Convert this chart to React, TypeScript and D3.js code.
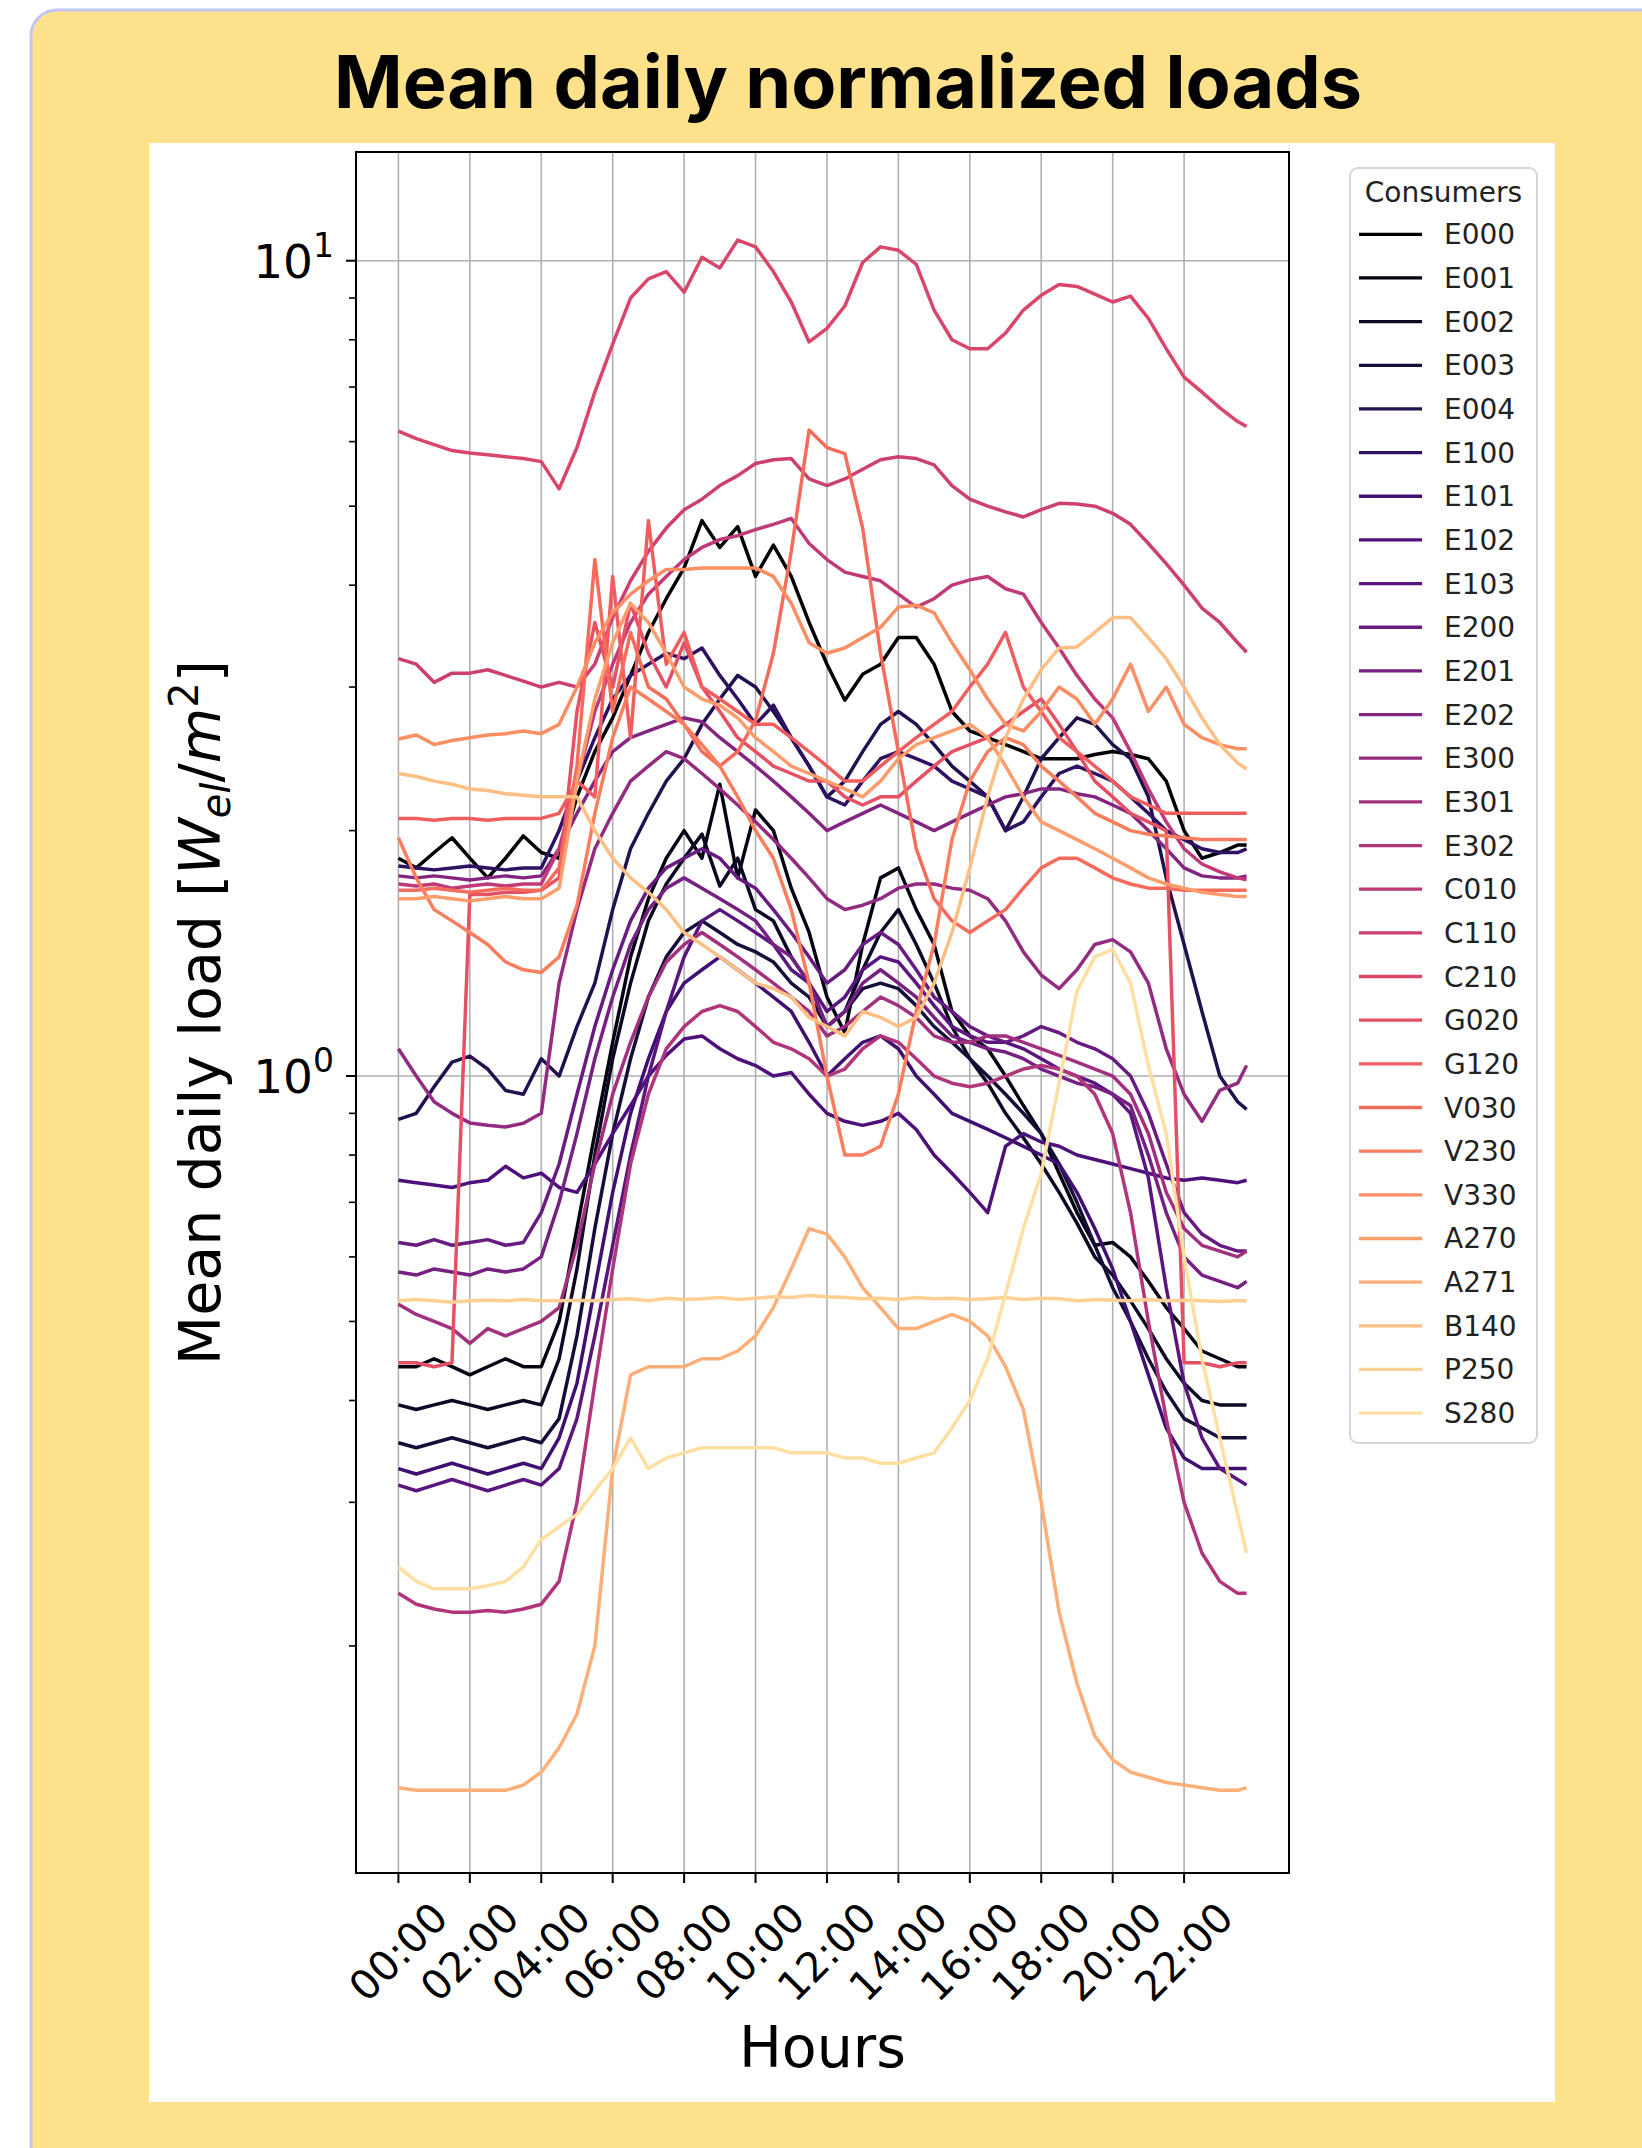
import React from 'react';
import * as d3 from 'd3';

const HOURS = [0,0.5,1,1.5,2,2.5,3,3.5,4,4.5,5,5.5,6,6.5,7,7.5,8,8.5,9,9.5,10,10.5,11,11.5,12,12.5,13,13.5,14,14.5,15,15.5,16,16.5,17,17.5,18,18.5,19,19.5,20,20.5,21,21.5,22,22.5,23,23.5,23.75];

const TICK_HOURS = [0,2,4,6,8,10,12,14,16,18,20,22];
const TICK_LABELS = ['00:00','02:00','04:00','06:00','08:00','10:00','12:00','14:00','16:00','18:00','20:00','22:00'];
const Y_MAJOR = [1, 10];
const Y_MAJOR_EXP = ['0', '1'];
const Y_MINOR = [0.2,0.3,0.4,0.5,0.6,0.7,0.8,0.9,2,3,4,5,6,7,8,9];

const CONSUMERS = ['E000','E001','E002','E003','E004','E100','E101','E102','E103','E200','E201','E202','E300','E301','E302','C010','C110','C210','G020','G120','V030','V230','V330','A270','A271','B140','P250','S280'];

const E000 = [1.85,1.8,1.88,1.96,1.85,1.75,1.85,1.97,1.88, 1.85,2.2,2.5,2.75,3.1,3.5,3.85,4.2, 4.8,4.45,4.72,4.1,4.48,4.1,3.6,3.2, 2.89,3.11,3.2,3.45,3.45,3.2,2.8,2.65, 2.6,2.55,2.5,2.45,2.45,2.45,2.48,2.5, 2.48,2.45,2.3,2.0,1.85,1.88,1.92, 1.92];
const E001 = [0.44,0.44,0.45,0.44,0.43,0.44,0.45,0.44,0.44, 0.5,0.65,0.85,1.1,1.4,1.65,1.85,2.0, 1.85,2.28,1.75,2.12,2.0,1.7,1.5,1.25, 1.13,1.45,1.75,1.8,1.6,1.45,1.2,1.12, 1.08,1.0,0.92,0.85,0.76,0.68,0.62,0.625, 0.6,0.56,0.52,0.49,0.46,0.45,0.44, 0.44];
const E002 = [0.395,0.39,0.395,0.4,0.395,0.39,0.395,0.4,0.395, 0.45,0.58,0.8,1.05,1.3,1.55,1.72,1.85, 1.98,1.71,1.85,1.6,1.55,1.4,1.3,1.15, 1.2,1.35,1.5,1.6,1.45,1.3,1.15,1.05, 0.98,0.9,0.84,0.78,0.72,0.66,0.6,0.57, 0.53,0.49,0.45,0.42,0.4,0.395,0.395, 0.395];
const E003 = [0.355,0.35,0.355,0.36,0.355,0.35,0.355,0.36,0.355, 0.38,0.48,0.65,0.85,1.05,1.25,1.4,1.5, 1.55,1.5,1.45,1.42,1.38,1.3,1.25,1.15, 1.2,1.28,1.3,1.28,1.22,1.15,1.1,1.05, 1.0,0.95,0.9,0.85,0.78,0.7,0.62,0.55, 0.5,0.45,0.41,0.38,0.37,0.36,0.36, 0.36];
const E004 = [0.885,0.9,0.97,1.04,1.058,1.02,0.96,0.95,1.05, 1.0,1.15,1.3,1.6,1.9,2.1,2.3,2.45, 2.7,2.9,3.1,3.0,2.8,2.6,2.4,2.2, 2.3,2.5,2.7,2.8,2.7,2.55,2.4,2.3, 2.2,2.0,2.2,2.45,2.6,2.75,2.7,2.55, 2.45,2.2,1.75,1.45,1.2,1.0,0.93, 0.91];
const E100 = [1.81,1.8,1.79,1.8,1.81,1.8,1.79,1.8,1.8, 2.0,2.3,2.6,2.9,3.1,3.2,3.3,3.25, 3.35,3.1,2.9,2.7,2.85,2.6,2.4,2.2, 2.15,2.3,2.45,2.5,2.45,2.4,2.3,2.25, 2.2,2.0,2.05,2.2,2.35,2.4,2.35,2.3, 2.2,2.1,2.0,1.95,1.9,1.88,1.88, 1.9];
const E101 = [0.33,0.325,0.33,0.335,0.33,0.325,0.33,0.335,0.33, 0.36,0.42,0.55,0.72,0.9,1.05,1.2,1.3, 1.35,1.4,1.35,1.3,1.25,1.2,1.1,1.0, 1.05,1.1,1.12,1.08,1.0,0.95,0.9,0.88, 0.86,0.84,0.82,0.8,0.78,0.72,0.65,0.58, 0.5,0.43,0.37,0.34,0.33,0.33,0.33, 0.33];
const E102 = [0.745,0.74,0.735,0.73,0.74,0.745,0.775,0.75,0.76, 0.73,0.72,0.78,0.85,0.92,1.0,1.06,1.11, 1.12,1.08,1.05,1.03,1.0,1.01,0.95,0.9, 0.88,0.87,0.88,0.9,0.86,0.8,0.76,0.72, 0.68,0.82,0.85,0.83,0.82,0.8,0.79,0.78, 0.77,0.76,0.75,0.745,0.75,0.745,0.74, 0.745];
const E103 = [0.315,0.31,0.315,0.32,0.315,0.31,0.315,0.32,0.315, 0.33,0.38,0.48,0.62,0.8,1.0,1.2,1.4, 1.55,1.6,1.55,1.5,1.45,1.35,1.3,1.2, 1.25,1.35,1.4,1.38,1.3,1.22,1.15,1.12, 1.1,1.1,1.08,1.05,1.02,1.0,0.98,0.95, 0.9,0.75,0.55,0.42,0.36,0.33,0.32, 0.315];
const E200 = [0.625,0.62,0.63,0.62,0.625,0.63,0.62,0.625,0.68, 0.78,0.95,1.15,1.35,1.55,1.7,1.8,1.85, 1.9,1.85,1.75,1.7,1.6,1.5,1.4,1.3, 1.35,1.45,1.5,1.45,1.35,1.25,1.2,1.15, 1.12,1.1,1.12,1.15,1.13,1.1,1.08,1.05, 1.0,0.9,0.78,0.68,0.64,0.62,0.61, 0.61];
const E201 = [0.575,0.57,0.58,0.575,0.57,0.58,0.575,0.58,0.6, 0.7,0.85,1.05,1.25,1.45,1.6,1.7,1.75, 1.7,1.65,1.6,1.55,1.45,1.4,1.3,1.15, 1.2,1.3,1.35,1.3,1.25,1.18,1.12,1.1, 1.08,1.07,1.05,1.02,1.0,0.98,0.97,0.95, 0.92,0.8,0.68,0.6,0.57,0.56,0.55, 0.56];
const E202 = [1.76,1.75,1.76,1.75,1.74,1.75,1.76,1.75,1.76, 1.9,2.1,2.3,2.5,2.6,2.65,2.7,2.75, 2.72,2.6,2.5,2.4,2.3,2.2,2.1,2.0, 2.05,2.1,2.15,2.1,2.05,2.0,2.05,2.1, 2.15,2.2,2.22,2.25,2.25,2.22,2.2,2.15, 2.1,2.0,1.9,1.8,1.76,1.75,1.75, 1.76];
const E300 = [1.08,1.0,0.93,0.9,0.876,0.87,0.866,0.875,0.9, 1.3,1.6,1.9,2.1,2.3,2.4,2.5,2.45, 2.35,2.25,2.15,2.05,1.95,1.85,1.75,1.65, 1.6,1.62,1.65,1.7,1.72,1.72,1.7,1.69, 1.65,1.55,1.42,1.33,1.28,1.35,1.45,1.47, 1.42,1.3,1.08,0.95,0.88,0.96,0.98, 1.03];
const E301 = [0.525,0.51,0.5,0.49,0.47,0.49,0.48,0.49,0.5, 0.52,0.62,0.78,0.95,1.1,1.25,1.38,1.45, 1.5,1.45,1.4,1.35,1.3,1.25,1.2,1.12, 1.15,1.2,1.25,1.22,1.18,1.12,1.1,1.1, 1.12,1.12,1.1,1.08,1.06,1.04,1.02,1.0, 0.95,0.85,0.72,0.65,0.62,0.61,0.6, 0.61];
const E302 = [0.232,0.225,0.222,0.22,0.22,0.221,0.22,0.222,0.225, 0.24,0.3,0.42,0.58,0.78,0.95,1.08,1.15, 1.2,1.22,1.2,1.15,1.1,1.08,1.05,1.0, 1.02,1.08,1.12,1.1,1.05,1.0,0.98,0.97, 0.98,1.0,1.02,1.03,1.02,1.0,0.95,0.85, 0.68,0.5,0.38,0.3,0.26,0.24,0.232, 0.232];
const C010 = [1.72,1.71,1.72,1.7,1.71,1.72,1.71,1.72,1.72, 1.9,2.3,2.8,3.2,3.6,3.9,4.1,4.3, 4.45,4.55,4.6,4.68,4.75,4.83,4.5,4.3, 4.15,4.1,4.05,3.9,3.76,3.85,4.0,4.06, 4.1,3.96,3.9,3.6,3.35,3.1,2.9,2.75, 2.5,2.25,2.05,1.9,1.82,1.78,1.75, 1.74];
const C110 = [3.25,3.2,3.04,3.12,3.12,3.15,3.1,3.05,3.0, 3.04,3.0,3.2,3.65,4.05,4.4,4.7,4.95, 5.1,5.3,5.45,5.64,5.7,5.72,5.4,5.3, 5.4,5.55,5.7,5.75,5.72,5.62,5.3,5.1, 5.0,4.92,4.85,4.95,5.04,5.03,5.0,4.9, 4.75,4.5,4.25,4.0,3.75,3.6,3.4, 3.31];
const C210 = [6.18,6.05,5.95,5.85,5.81,5.78,5.75,5.72,5.67, 5.25,5.9,6.9,7.9,9.0,9.5,9.7,9.15, 10.1,9.8,10.6,10.4,9.7,8.9,7.95,8.26, 8.8,9.95,10.4,10.3,9.9,8.7,8.0,7.8, 7.8,8.15,8.7,9.07,9.35,9.3,9.1,8.9, 9.05,8.5,7.8,7.2,6.9,6.6,6.35, 6.26];
const G020 = [0.445,0.445,0.44,0.445,1.67,1.67,1.68,1.68,1.69, 1.75,2.8,3.6,3.0,3.8,3.3,3.0,3.4, 3.0,2.8,2.6,2.5,2.4,2.35,2.3,2.3, 2.2,2.15,2.2,2.2,2.3,2.4,2.5,2.55, 2.6,2.7,2.8,2.9,2.7,2.5,2.3,2.2, 2.1,2.05,2.0,0.445,0.445,0.44,0.445, 0.445];
const G120 = [2.07,2.07,2.06,2.07,2.07,2.06,2.07,2.07,2.07, 2.1,2.3,2.2,4.1,2.6,4.8,3.2,3.5, 3.0,2.9,2.8,2.7,2.7,2.6,2.5,2.4, 2.3,2.3,2.4,2.5,2.6,2.7,2.8,3.0, 3.2,3.5,3.0,2.8,2.6,2.5,2.4,2.3, 2.2,2.15,2.1,2.1,2.1,2.1,2.1, 2.1];
const V030 = [1.69,1.69,1.7,1.69,1.68,1.69,1.7,1.69,1.69, 1.8,2.4,4.3,2.8,3.5,3.0,2.9,2.7, 2.5,2.4,2.5,2.73,3.3,4.4,6.2,5.9, 5.8,4.7,3.3,2.5,1.9,1.65,1.55,1.5, 1.55,1.6,1.7,1.8,1.85,1.85,1.8,1.75, 1.72,1.7,1.7,1.69,1.69,1.69,1.69, 1.69];
const V230 = [1.96,1.75,1.6,1.55,1.5,1.45,1.38,1.35,1.34, 1.4,1.62,2.1,2.6,3.0,2.9,2.8,2.7, 2.55,2.4,2.2,2.0,1.85,1.6,1.3,1.0, 0.8,0.8,0.82,0.95,1.2,1.45,1.95,2.3, 2.5,2.6,2.55,2.4,2.3,2.2,2.1,2.05, 2.0,1.98,1.97,1.96,1.95,1.95,1.95, 1.95];
const V330 = [2.59,2.62,2.55,2.58,2.6,2.62,2.63,2.65,2.63, 2.7,3.0,3.4,3.7,3.9,4.05,4.18,4.18, 4.2,4.2,4.2,4.2,4.1,3.8,3.4,3.3, 3.35,3.45,3.55,3.76,3.78,3.7,3.4,3.15, 2.9,2.7,2.65,2.8,3.0,2.9,2.7,2.9, 3.2,2.8,3.0,2.7,2.6,2.55,2.52, 2.52];
const A270 = [1.65,1.65,1.66,1.65,1.64,1.65,1.66,1.65,1.65, 1.7,2.3,2.9,3.4,3.8,3.6,3.3,3.0, 2.9,2.85,2.75,2.6,2.5,2.4,2.35,2.3, 2.25,2.2,2.3,2.45,2.55,2.6,2.65,2.7, 2.6,2.4,2.2,2.05,2.0,1.95,1.9,1.85, 1.8,1.75,1.72,1.7,1.68,1.67,1.66, 1.66];
const A271 = [0.134,0.133,0.133,0.133,0.133,0.133,0.133,0.135,0.14, 0.15,0.165,0.2,0.33,0.43,0.44,0.44,0.44, 0.45,0.45,0.46,0.48,0.52,0.58,0.65,0.64, 0.6,0.55,0.52,0.49,0.49,0.5,0.51,0.5, 0.48,0.44,0.39,0.3,0.22,0.18,0.155,0.145, 0.14,0.138,0.136,0.135,0.134,0.133,0.133, 0.134];
const B140 = [2.35,2.33,2.3,2.28,2.25,2.24,2.22,2.21,2.2, 2.2,2.2,2.0,1.85,1.75,1.68,1.6,1.5, 1.45,1.4,1.35,1.3,1.28,1.25,1.18,1.15, 1.12,1.2,1.18,1.15,1.18,1.3,1.5,1.8, 2.2,2.6,2.9,3.15,3.35,3.36,3.5,3.65, 3.65,3.45,3.25,3.0,2.75,2.55,2.42, 2.38];
const P250 = [0.53,0.532,0.53,0.528,0.53,0.531,0.53,0.532,0.53, 0.53,0.531,0.53,0.532,0.533,0.53,0.534,0.532, 0.533,0.535,0.532,0.534,0.536,0.535,0.538,0.536, 0.535,0.533,0.534,0.532,0.535,0.533,0.534,0.532, 0.533,0.535,0.532,0.534,0.533,0.53,0.532,0.531, 0.53,0.532,0.53,0.531,0.53,0.529,0.53, 0.53];
const S280 = [0.25,0.24,0.235,0.235,0.235,0.237,0.24,0.25,0.27, 0.28,0.29,0.31,0.33,0.36,0.33,0.34,0.345, 0.35,0.35,0.35,0.35,0.35,0.345,0.345,0.345, 0.34,0.34,0.335,0.335,0.34,0.345,0.37,0.4, 0.45,0.54,0.65,0.76,0.98,1.27,1.4,1.43, 1.3,1.03,0.85,0.6,0.45,0.36,0.29, 0.26];

const SERIES = [E000,E001,E002,E003,E004,E100,E101,E102,E103,E200,E201,E202,E300,E301,E302,C010,C110,C210,G020,G120,V030,V230,V330,A270,A271,B140,P250,S280];

const W = 1642;
const H = 2148;
const PL = 356, PR = 1289, PT = 152, PB = 1873;
const FONT = "'DejaVu Sans', sans-serif";

export default function App() {
  const x = d3.scaleLinear().domain([-1.1875, 24.9375]).range([PL, PR]);
  const y = d3.scaleLog().domain([0.10531, 13.595]).range([PB, PT]);
  const line = d3.line<[number, number]>().x(d => x(d[0])).y(d => y(d[1]));
  const color = (i: number) => d3.interpolateMagma((i / CONSUMERS.length) * 0.97);

  const legX = 1350, legY = 168, legW = 187, legH = 1275;
  const legFirst = 234.3, legStep = 43.66;

  return (
    <svg width={W} height={H} style={{ position: 'absolute', left: 0, top: 0, display: 'block' }}>
      <defs>
        <clipPath id="plotclip">
          <rect x={PL} y={PT} width={PR - PL} height={PB - PT} />
        </clipPath>
      </defs>
      <rect x={0} y={0} width={W} height={H} fill="#ffffff" />
      <rect x={31} y={10} width={1700} height={2300} rx={26} fill="#fde28b" stroke="#c3c5f3" strokeWidth={3} />
      <text x={848} y={108} textAnchor="middle" fontFamily="Inter, 'Open Sans', sans-serif" fontWeight={700} fontSize={73} textLength={1028} lengthAdjust="spacingAndGlyphs" fill="#000">Mean daily normalized loads</text>
      <rect x={149} y={143} width={1406} height={1959} fill="#ffffff" />

      {/* grid */}
      <g stroke="#b0b0b0" strokeWidth={1.6}>
        {TICK_HOURS.map(h => (
          <line key={'gx' + h} x1={x(h)} x2={x(h)} y1={PT} y2={PB} />
        ))}
        {Y_MAJOR.map(v => (
          <line key={'gy' + v} x1={PL} x2={PR} y1={y(v)} y2={y(v)} />
        ))}
      </g>

      {/* series */}
      <g clipPath="url(#plotclip)" fill="none" strokeWidth={3.5} strokeLinejoin="round">
        {SERIES.map((vals, i) => (
          <path key={CONSUMERS[i]} d={line(HOURS.map((h, k) => [h, vals[k]] as [number, number])) || ''} stroke={color(i)} />
        ))}
      </g>

      {/* spines */}
      <rect x={PL} y={PT} width={PR - PL} height={PB - PT} fill="none" stroke="#000" strokeWidth={2} />

      {/* ticks */}
      <g stroke="#000" strokeWidth={2}>
        {TICK_HOURS.map(h => (
          <line key={'tx' + h} x1={x(h)} x2={x(h)} y1={PB} y2={PB + 10} />
        ))}
        {Y_MAJOR.map(v => (
          <line key={'ty' + v} x1={PL - 10} x2={PL} y1={y(v)} y2={y(v)} />
        ))}
        {Y_MINOR.map(v => (
          <line key={'tm' + v} x1={PL - 7} x2={PL} y1={y(v)} y2={y(v)} strokeWidth={1.6} />
        ))}
      </g>
      {TICK_HOURS.map((h, i) => (
        <text key={'lx' + h} transform={`translate(${x(h)},1952) rotate(-45)`} textAnchor="middle" dominantBaseline="central" fontFamily={FONT} fontSize={41} fill="#000">{TICK_LABELS[i]}</text>
      ))}
      {Y_MAJOR.map((v, i) => (
        <text key={'ly' + v} x={334} y={y(v) + 17} textAnchor="end" fontFamily={FONT} fontSize={47} fill="#000">
          10
          <tspan fontSize={33} dy={-21}>{Y_MAJOR_EXP[i]}</tspan>
        </text>
      ))}
      <text x={(PL + PR) / 2} y={2067} textAnchor="middle" fontFamily={FONT} fontSize={57} fill="#000">Hours</text>
      <text transform={`translate(220,${(PT + PB) / 2}) rotate(-90)`} textAnchor="middle" fontFamily={FONT} fontSize={57} fill="#000">
        Mean daily load [
        <tspan fontStyle="italic">W</tspan>
        <tspan fontStyle="italic" fontSize={40} dy={10}>el</tspan>
        <tspan dy={-10}>/</tspan>
        <tspan fontStyle="italic">m</tspan>
        <tspan fontSize={40} dy={-22}>2</tspan>
        <tspan dy={22}>]</tspan>
      </text>

      {/* legend */}
      <rect x={legX} y={legY} width={legW} height={legH} rx={8} fill="#ffffff" stroke="#d6d6d6" strokeWidth={2} />
      <text x={legX + legW / 2} y={202} textAnchor="middle" fontFamily={FONT} fontSize={28} fill="#222">Consumers</text>
      {CONSUMERS.map((name, i) => {
        const ly = legFirst + i * legStep;
        return (
          <g key={'lg' + name}>
            <line x1={1359} x2={1422} y1={ly} y2={ly} stroke={color(i)} strokeWidth={3.3} />
            <text x={1444} y={ly + 10} fontFamily={FONT} fontSize={28} fill="#222">{name}</text>
          </g>
        );
      })}
    </svg>
  );
}
